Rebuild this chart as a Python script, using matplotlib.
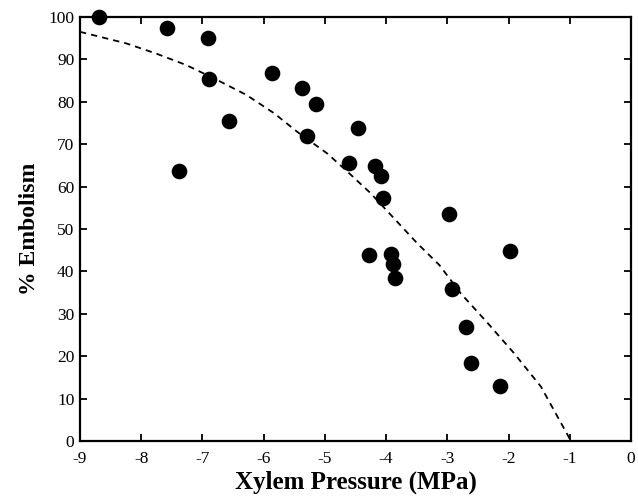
import matplotlib
matplotlib.use("Agg")
import matplotlib.pyplot as plt

# measured points
pressure = [-8.69, -7.58, -6.91, -6.90, -7.39, -6.56, -5.86, -5.38, -5.15, -5.30,
            -4.46, -4.60, -4.18, -4.09, -4.05, -2.98, -1.97, -4.28, -3.92, -3.89,
            -3.86, -2.93, -2.69, -2.62, -2.14]
embolism = [100.0, 97.3, 95.0, 85.3, 63.7, 75.5, 86.7, 83.2, 79.5, 72.0,
            73.9, 65.5, 64.9, 62.6, 57.4, 53.5, 44.9, 43.9, 44.0, 41.7,
            38.5, 35.8, 26.8, 18.3, 13.0]

# fitted curve
curve_x = [-9.0, -8.25, -7.76, -7.27, -6.78, -6.28, -5.83, -5.45, -4.96, -4.63,
           -4.25, -3.87, -3.49, -3.13, -2.78, -2.34, -1.91, -1.47, -1.0]
curve_y = [96.5, 93.8, 91.4, 88.7, 85.3, 81.6, 77.3, 72.9, 67.8, 63.5,
           58.4, 52.5, 46.6, 41.5, 34.8, 27.8, 20.7, 12.8, 0.5]

xticks = [-9, -8, -7, -6, -5, -4, -3, -2, -1, 0]
yticks = [0, 10, 20, 30, 40, 50, 60, 70, 80, 90, 100]

plt.rcParams['font.family'] = ['Liberation Serif', 'DejaVu Serif']

fig = plt.figure(figsize=(6.38, 4.97), dpi=100)
ax = fig.add_axes([0.1254, 0.1127, 0.8636, 0.8531])

ax.plot(curve_x, curve_y, color='black', lw=1.3, ls=(0, (3.5, 2.8)), zorder=2)
ax.scatter(pressure, embolism, s=105, color='black', zorder=3, clip_on=False)

ax.set_xlim(-9, 0)
ax.set_ylim(0, 100)
ax.set_xticks(xticks)
ax.set_yticks(yticks)
ax.set_xticklabels([str(t) for t in xticks])
ax.tick_params(direction='in', length=5, width=1.3, labelsize=12.5,
               top=True, right=True, labeltop=False, labelright=False)
ax.tick_params(axis='x', pad=7)
ax.tick_params(axis='y', pad=4)
for s in ax.spines.values():
    s.set_linewidth(1.6)

ax.set_xlabel('Xylem Pressure (MPa)', fontsize=18, fontweight='bold', labelpad=3)
ax.set_ylabel('% Embolism', fontsize=17, fontweight='bold', labelpad=6)

fig.savefig('out.png', dpi=100)
